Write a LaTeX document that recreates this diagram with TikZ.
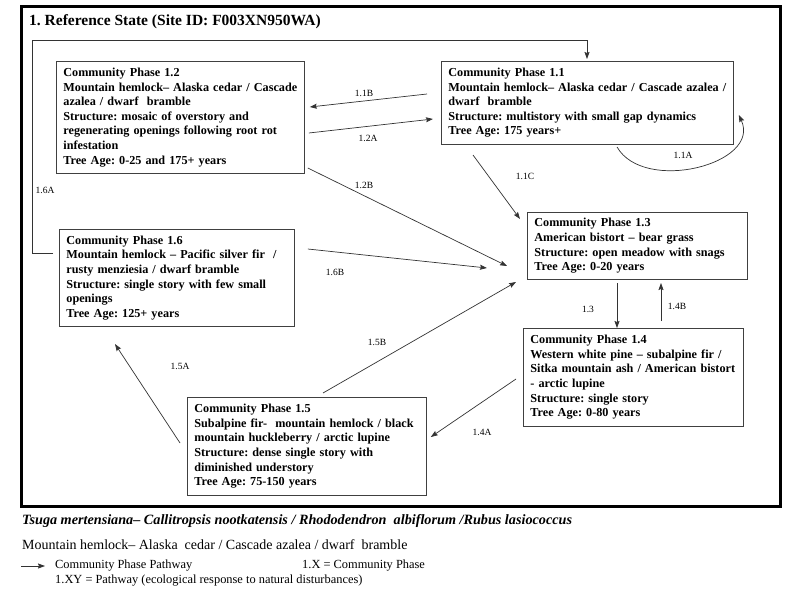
\documentclass[tikz,border=0pt]{standalone}
\usepackage{fontspec}
\setmainfont{Liberation Serif}
\usetikzlibrary{arrows.meta}
\frenchspacing

\begin{document}
\begin{tikzpicture}[x=1pt, y=-1pt,
    phasebox/.style={draw=black!75, line width=0.8pt, rectangle, anchor=north west, align=left, inner xsep=7pt, inner ysep=0pt, font=\fontsize{12.2}{14.6}\selectfont\bfseries},
    pathlabel/.style={inner sep=0pt, font=\fontsize{9.5}{11}\selectfont},
    keytext/.style={anchor=west, inner sep=0pt},
    pathway/.style={->, draw=black!80, line width=0.7pt},
    >={Stealth[length=7pt, width=5pt, inset=1pt]}]
    \path[use as bounding box, fill=white] (0,0) rectangle (800,600);
    \draw[line width=3pt] (21,6) rectangle (780,506);
    \node[keytext, font=\fontsize{15.5}{18}\selectfont\bfseries] (Title) at (29,22) {1. Reference State (Site ID: F003XN950WA)};
    % Nodes
    \node[phasebox, text width=234pt, minimum height=112pt] (P12) at (56,61) {Community Phase 1.2\\Mountain hemlock– Alaska cedar / Cascade\\azalea / dwarf\ \ bramble\\Structure: mosaic of overstory and\\regenerating openings following root rot\\infestation\\Tree Age: 0-25 and 175+ years};
    \node[phasebox, text width=278pt, minimum height=83pt] (P11) at (441,61) {Community Phase 1.1\\Mountain hemlock– Alaska cedar / Cascade azalea /\\dwarf\ \ bramble\\Structure: multistory with small gap dynamics\\Tree Age: 175 years+};
    \node[phasebox, text width=221pt, minimum height=97pt] (P16) at (59,229) {Community Phase 1.6\\Mountain hemlock – Pacific silver fir\ \ /\\rusty menziesia / dwarf bramble\\Structure: single story with few small\\openings\\Tree Age: 125+ years};
    \node[phasebox, text width=206pt, minimum height=67pt] (P13) at (527,212) {Community Phase 1.3\\American bistort – bear grass\\Structure: open meadow with snags\\Tree Age: 0-20 years};
    \node[phasebox, text width=206pt, minimum height=98pt] (P14) at (523,328) {Community Phase 1.4\\Western white pine – subalpine fir /\\Sitka mountain ash / American bistort\\- arctic lupine\\Structure: single story\\Tree Age: 0-80 years};
    \node[phasebox, text width=225pt, minimum height=98pt] (P15) at (187,397) {Community Phase 1.5\\Subalpine fir-\ \ mountain hemlock / black\\mountain huckleberry / arctic lupine\\Structure: dense single story with\\diminished understory\\Tree Age: 75-150 years};
    % Edges
    \coordinate (K16A) at (32,40);
    \draw[pathway] ([shift={(-6,24)}]P16.north west) -| (K16A) -| ([shift={(146,-2)}]P11.north west);
    \draw[pathway] ([shift={(-14,33)}]P11.north west) -- ([shift={(5,46)}]P12.north east);
    \draw[pathway] ([shift={(4,72)}]P12.north east) -- ([shift={(-8,58)}]P11.north west);
    \draw[pathway] ([shift={(3,107)}]P12.north east) -- ([shift={(-20,54)}]P13.north west);
    \draw[pathway] ([shift={(13,20)}]P16.north east) -- ([shift={(-40,56)}]P13.north west);
    \draw[pathway] ([shift={(136,-4)}]P15.north west) -- ([shift={(-11,70)}]P13.north west);
    \draw[pathway] ([shift={(32,94)}]P11.north west) -- ([shift={(-7,7)}]P13.north west);
    \draw[pathway] ([shift={(176,86)}]P11.north west) to[out=-60, in=-65, looseness=1.1] ([shift={(5,54)}]P11.north east);
    \draw[pathway] ([shift={(90,71)}]P13.north west) -- ([shift={(94,0)}]P14.north west);
    \draw[pathway] ([shift={(138,-7)}]P14.north west) -- ([shift={(134,71)}]P13.north west);
    \draw[pathway] ([shift={(-7,51)}]P14.north west) -- ([shift={(4,40)}]P15.north east);
    \draw[pathway] ([shift={(-7,46)}]P15.north west) -- ([shift={(56,115)}]P16.north west);
    % Labels
    \node[pathlabel] (L16A) at (45,190) {1.6A};
    \node[pathlabel] (L11B) at (364,93) {1.1B};
    \node[pathlabel] (L12A) at (368,138) {1.2A};
    \node[pathlabel] (L12B) at (364,185) {1.2B};
    \node[pathlabel] (L16B) at (335,272) {1.6B};
    \node[pathlabel] (L15B) at (377,342) {1.5B};
    \node[pathlabel] (L11C) at (525,176) {1.1C};
    \node[pathlabel] (L11A) at (683,155) {1.1A};
    \node[pathlabel] (L13) at (588,309) {1.3};
    \node[pathlabel] (L14B) at (677,306) {1.4B};
    \node[pathlabel] (L14A) at (482,432) {1.4A};
    \node[pathlabel] (L15A) at (180,366) {1.5A};
    % Legend
    \node[keytext, font=\fontsize{14.2}{16}\selectfont\bfseries\itshape] (Latin) at (22,521) {Tsuga mertensiana– Callitropsis nootkatensis / Rhododendron\ \ albiflorum /Rubus lasiococcus};
    \node[keytext, font=\fontsize{14}{16}\selectfont] (Common) at (22,545) {Mountain hemlock– Alaska\ \ cedar / Cascade azalea / dwarf\ \ bramble};
    \node[keytext, font=\fontsize{12.4}{14}\selectfont] (KeyPath) at (55,566) {Community Phase Pathway};
    \node[keytext, font=\fontsize{12.4}{14}\selectfont] (KeyX) at (302,566) {1.X = Community Phase};
    \node[keytext, font=\fontsize{12.4}{14}\selectfont] (KeyXY) at (55,581) {1.XY = Pathway (ecological response to natural disturbances)};
    \coordinate (KeyStart) at (21,566);
    \draw[pathway] (KeyStart) -- ([xshift=-10pt]KeyPath.west);
\end{tikzpicture}
\end{document}
